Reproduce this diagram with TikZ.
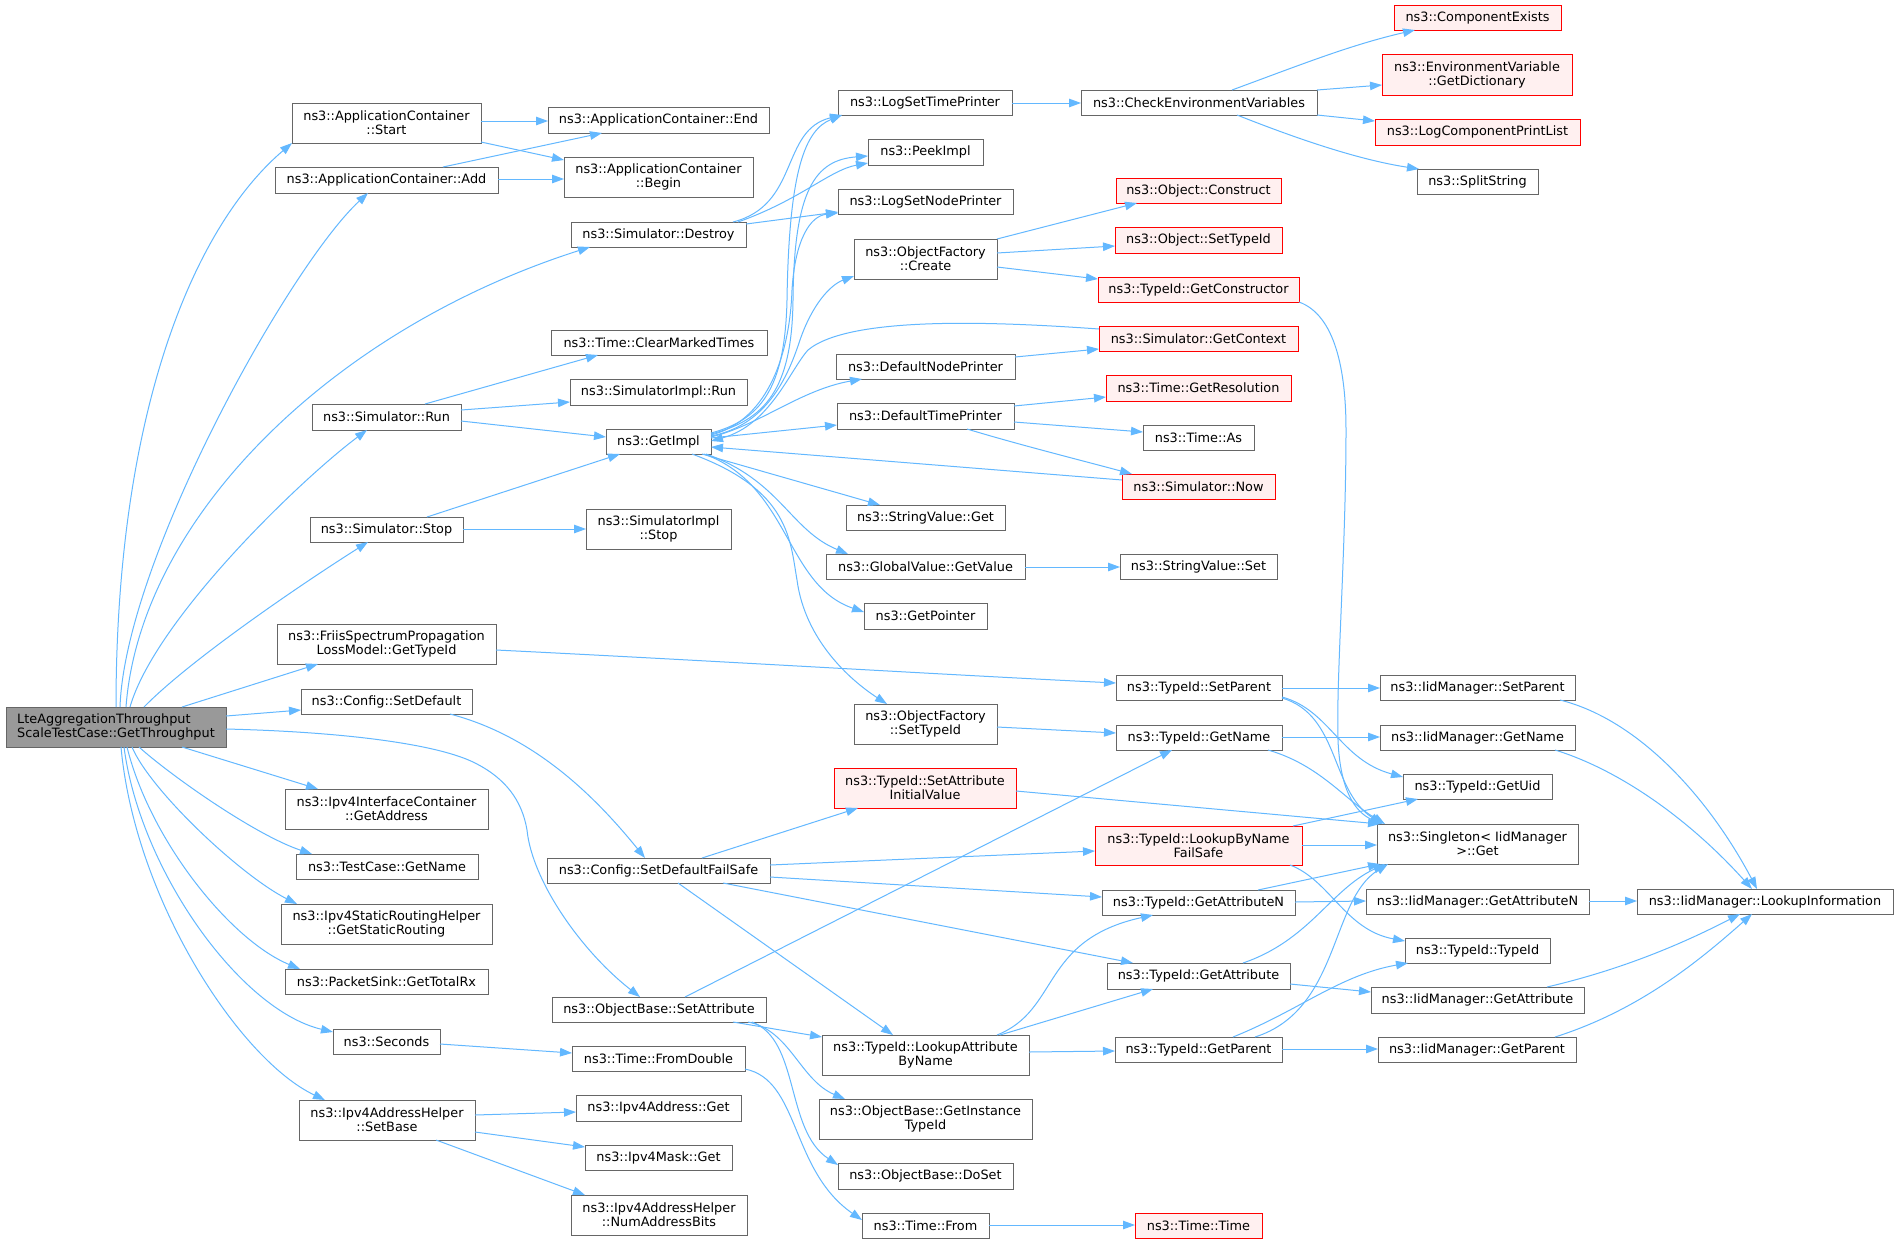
\documentclass[tikz,border=0pt]{standalone}
\usepackage{fontspec}
\setmainfont{DejaVu Sans}
\usetikzlibrary{arrows.meta,calc}
\definecolor{edgec}{HTML}{63B8FF}
\definecolor{boxc}{HTML}{666666}
\definecolor{redfill}{HTML}{FFF0F0}
\definecolor{mainfill}{HTML}{999999}
\newcommand\mkbox[7]{\node[#1, minimum width={(#5-#3)*1bp}, minimum height={(#6-#4)*1bp}] (#2) at ({(#3+#5)/2},{(#4+#6)/2}) {#7};}
\tikzset{
 basebox/.style={draw=boxc, line width=1bp, inner sep=0pt, outer sep=0pt, font=\fontsize{12.85bp}{14bp}\selectfont, align=center, text=black},
 nbox/.style={basebox, fill=white},
 rbox/.style={basebox, draw=red, fill=redfill},
 mbox/.style={basebox, fill=mainfill, align=left},
 conn/.style={draw=edgec, line width=1bp, -{Triangle[length=12bp,width=8.5bp]}},
}
\begin{document}
\begin{tikzpicture}[x=1bp,y=-1bp]
\useasboundingbox (0,0) rectangle (1899,1243);
\fill[white] (0,0) rectangle (1899,1243);
% nodes
\mkbox{mbox}{main}{6}{707}{226}{747}{LteAggregationThroughput\\ScaleTestCase::GetThroughput}
\mkbox{nbox}{st}{292}{103}{481}{143}{ns3::ApplicationContainer\\::Start}
\mkbox{nbox}{ad}{275}{167}{498}{193}{ns3::ApplicationContainer::Add}
\mkbox{nbox}{en}{548}{107}{769}{133}{ns3::ApplicationContainer::End}
\mkbox{nbox}{be}{564}{157}{753}{197}{ns3::ApplicationContainer\\::Begin}
\mkbox{nbox}{de}{571}{222}{746}{247}{ns3::Simulator::Destroy}
\mkbox{nbox}{lstp}{838}{90}{1012}{115}{ns3::LogSetTimePrinter}
\mkbox{nbox}{pk}{868}{139}{983}{165}{ns3::PeekImpl}
\mkbox{nbox}{lsnp}{838}{189}{1013}{214}{ns3::LogSetNodePrinter}
\mkbox{nbox}{ofc}{854}{239}{997}{279}{ns3::ObjectFactory\\::Create}
\mkbox{nbox}{cmt}{551}{330}{767}{355}{ns3::Time::ClearMarkedTimes}
\mkbox{nbox}{sir}{570}{379}{747}{405}{ns3::SimulatorImpl::Run}
\mkbox{nbox}{dnp}{836}{354}{1015}{379}{ns3::DefaultNodePrinter}
\mkbox{nbox}{dtp}{837}{403}{1014}{429}{ns3::DefaultTimePrinter}
\mkbox{nbox}{cev}{1081}{90}{1317}{115}{ns3::CheckEnvironmentVariables}
\mkbox{rbox}{ce}{1394}{5}{1561}{30}{ns3::ComponentExists}
\mkbox{rbox}{evd}{1382}{54}{1572}{95}{ns3::EnvironmentVariable\\::GetDictionary}
\mkbox{rbox}{lcpl}{1375}{119}{1580}{145}{ns3::LogComponentPrintList}
\mkbox{nbox}{ss}{1417}{169}{1538}{194}{ns3::SplitString}
\mkbox{rbox}{oc}{1116}{178}{1281}{203}{ns3::Object::Construct}
\mkbox{rbox}{ost}{1115}{227}{1282}{253}{ns3::Object::SetTypeId}
\mkbox{rbox}{gc}{1098}{277}{1299}{302}{ns3::TypeId::GetConstructor}
\mkbox{rbox}{gctx}{1099}{326}{1298}{351}{ns3::Simulator::GetContext}
\mkbox{rbox}{gr}{1106}{375}{1291}{401}{ns3::Time::GetResolution}
\mkbox{nbox}{run}{312}{404}{461}{430}{ns3::Simulator::Run}
\mkbox{nbox}{stop}{310}{517}{463}{542}{ns3::Simulator::Stop}
\mkbox{nbox}{fr}{277}{624}{496}{664}{ns3::FriisSpectrumPropagation\\LossModel::GetTypeId}
\mkbox{nbox}{csd}{301}{689}{472}{714}{ns3::Config::SetDefault}
\mkbox{nbox}{iga}{285}{789}{488}{829}{ns3::Ipv4InterfaceContainer\\::GetAddress}
\mkbox{nbox}{tcn}{296}{854}{478}{879}{ns3::TestCase::GetName}
\mkbox{nbox}{sr}{281}{904}{492}{944}{ns3::Ipv4StaticRoutingHelper\\::GetStaticRouting}
\mkbox{nbox}{ptr}{285}{969}{488}{994}{ns3::PacketSink::GetTotalRx}
\mkbox{nbox}{sec}{333}{1029}{440}{1054}{ns3::Seconds}
\mkbox{nbox}{sb}{299}{1100}{475}{1140}{ns3::Ipv4AddressHelper\\::SetBase}
\mkbox{nbox}{sdfs}{547}{858}{770}{883}{ns3::Config::SetDefaultFailSafe}
\mkbox{nbox}{osa}{552}{997}{766}{1022}{ns3::ObjectBase::SetAttribute}
\mkbox{nbox}{tfd}{572}{1046}{745}{1071}{ns3::Time::FromDouble}
\mkbox{nbox}{iag}{576}{1095}{741}{1121}{ns3::Ipv4Address::Get}
\mkbox{nbox}{img}{585}{1145}{732}{1170}{ns3::Ipv4Mask::Get}
\mkbox{nbox}{nab}{571}{1195}{747}{1235}{ns3::Ipv4AddressHelper\\::NumAddressBits}
\mkbox{nbox}{lab}{822}{1035}{1029}{1075}{ns3::TypeId::LookupAttribute\\ByName}
\mkbox{nbox}{git}{819}{1099}{1032}{1139}{ns3::ObjectBase::GetInstance\\TypeId}
\mkbox{nbox}{ds}{838}{1163}{1013}{1189}{ns3::ObjectBase::DoSet}
\mkbox{nbox}{tf}{862}{1213}{989}{1238}{ns3::Time::From}
\mkbox{rbox}{lbn}{1095}{826}{1302}{865}{ns3::TypeId::LookupByName\\FailSafe}
\mkbox{nbox}{gan}{1102}{890}{1295}{915}{ns3::TypeId::GetAttributeN}
\mkbox{nbox}{ga}{1107}{963}{1290}{989}{ns3::TypeId::GetAttribute}
\mkbox{nbox}{gp}{1115}{1037}{1282}{1062}{ns3::TypeId::GetParent}
\mkbox{rbox}{tt}{1135}{1213}{1262}{1238}{ns3::Time::Time}
\mkbox{nbox}{sg}{1377}{824}{1578}{864}{ns3::Singleton< IidManager\\>::Get}
\mkbox{nbox}{igan}{1366}{889}{1589}{914}{ns3::IidManager::GetAttributeN}
\mkbox{nbox}{tid}{1405}{938}{1550}{963}{ns3::TypeId::TypeId}
\mkbox{nbox}{iga2}{1371}{987}{1584}{1013}{ns3::IidManager::GetAttribute}
\mkbox{nbox}{igp}{1378}{1037}{1576}{1062}{ns3::IidManager::GetParent}
\mkbox{nbox}{li}{1637}{889}{1893}{914}{ns3::IidManager::LookupInformation}
\mkbox{nbox}{gi}{606}{429}{711}{454}{ns3::GetImpl}
\mkbox{nbox}{sis}{586}{509}{731}{549}{ns3::SimulatorImpl\\::Stop}
\mkbox{nbox}{svg}{846}{505}{1005}{530}{ns3::StringValue::Get}
\mkbox{nbox}{gvv}{826}{554}{1025}{579}{ns3::GlobalValue::GetValue}
\mkbox{nbox}{gptr}{864}{603}{987}{629}{ns3::GetPointer}
\mkbox{nbox}{ofs}{854}{704}{997}{744}{ns3::ObjectFactory\\::SetTypeId}
\mkbox{rbox}{sai}{834}{768}{1016}{808}{ns3::TypeId::SetAttribute\\InitialValue}
\mkbox{nbox}{tas}{1143}{425}{1254}{450}{ns3::Time::As}
\mkbox{rbox}{now}{1122}{474}{1275}{499}{ns3::Simulator::Now}
\mkbox{nbox}{svs}{1120}{554}{1277}{579}{ns3::StringValue::Set}
\mkbox{nbox}{tsp}{1116}{675}{1282}{700}{ns3::TypeId::SetParent}
\mkbox{nbox}{tgn}{1116}{725}{1282}{750}{ns3::TypeId::GetName}
\mkbox{nbox}{isp}{1380}{675}{1575}{700}{ns3::IidManager::SetParent}
\mkbox{nbox}{ign}{1380}{725}{1575}{750}{ns3::IidManager::GetName}
\mkbox{nbox}{gu}{1403}{774}{1552}{799}{ns3::TypeId::GetUid}
% main edges
\draw[conn] ($(main.north west)+(110,0)$) .. controls (116,420) and (190,230) .. (st.south west);
\draw[conn] ($(main.north west)+(114,0)$) .. controls (125,560) and (290,265) .. ($(ad.north west)+(93,26)$);
\draw[conn] ($(main.north west)+(120,0)$) .. controls (140,520) and (330,330) .. ($(de.north west)+(19,25)$);
\draw[conn] ($(main.north west)+(124,0)$) .. controls (155,620) and (300,480) .. ($(run.north west)+(55,26)$);
\draw[conn] ($(main.north west)+(138,0)$) .. controls (190,660) and (300,585) .. ($(stop.north west)+(58,25)$);
\draw[conn] ($(main.north west)+(176,0)$) -- ($(fr.north west)+(41,40)$);
\draw[conn] ($(main.north west)+(220,9)$) -- ($(csd.north west)+(0,21)$);
\draw[conn] ($(main.north west)+(220,22)$) .. controls (350,732) and (440,745) .. (475,763) .. controls (505,778) and (522,800) .. (527,830) .. controls (532,880) and (580,950) .. ($(osa.north west)+(88,0)$);
\draw[conn] ($(main.north west)+(176,40)$) -- ($(iga.north west)+(33,0)$);
\draw[conn] ($(main.north west)+(133,40)$) .. controls (170,775) and (255,835) .. ($(tcn.north west)+(16,0)$);
\draw[conn] ($(main.north west)+(126,40)$) .. controls (150,790) and (240,875) .. ($(sr.north west)+(16,0)$);
\draw[conn] ($(main.north west)+(121,40)$) .. controls (150,840) and (230,940) .. ($(ptr.north west)+(15,0)$);
\draw[conn] ($(main.north west)+(118,40)$) .. controls (140,870) and (240,1010) .. ($(sec.north west)+(0,3)$);
\draw[conn] ($(main.north west)+(115,40)$) .. controls (135,900) and (240,1060) .. ($(sb.north west)+(26,0)$);
% application container
\draw[conn] ($(st.north west)+(189,18)$) -- ($(en.north west)+(0,14)$);
\draw[conn] ($(st.north west)+(189,39)$) -- ($(be.north west)+(0,3)$);
\draw[conn] ($(ad.north west)+(168,0)$) -- ($(en.north west)+(54,26)$);
\draw[conn] ($(ad.north west)+(223,12)$) -- ($(be.north west)+(0,22)$);
% destroy
\draw[conn] ($(de.north west)+(162,0)$) .. controls (800,205) and (780,130) .. ($(lstp.north west)+(4,25)$);
\draw[conn] ($(de.north west)+(167,0)$) .. controls (800,200) and (830,170) .. ($(pk.north west)+(0,24)$);
\draw[conn] ($(de.north west)+(175,2)$) -- ($(lsnp.north west)+(0,23)$);
% run, stop
\draw[conn] ($(run.north west)+(113,0)$) -- ($(cmt.north west)+(47,25)$);
\draw[conn] ($(run.north west)+(149,6)$) -- ($(sir.north west)+(0,23)$);
\draw[conn] ($(run.north west)+(149,17)$) -- ($(gi.north west)+(0,8)$);
\draw[conn] ($(stop.north west)+(117,0)$) -- ($(gi.north west)+(14,25)$);
\draw[conn] ($(stop.north west)+(153,12)$) -- ($(sis.north west)+(0,20)$);
% GetImpl out
\draw[conn] ($(gi.north west)+(105,4)$) .. controls (760,420) and (785,390) .. (787,300) .. controls (789,170) and (805,130) .. ($(lstp.north west)+(4,25)$);
\draw[conn] ($(gi.north west)+(105,5)$) .. controls (765,420) and (792,390) .. (793,300) .. controls (794,190) and (815,160) .. ($(pk.north west)+(0,17)$);
\draw[conn] ($(gi.north west)+(105,6)$) .. controls (770,420) and (790,350) .. (792,290) .. controls (795,240) and (810,216) .. ($(lsnp.north west)+(0,24)$);
\draw[conn] ($(gi.north west)+(105,7)$) .. controls (770,425) and (790,370) .. (800,340) .. controls (812,305) and (830,285) .. ($(ofc.north west)+(0,37)$);
\draw[conn] ($(gi.north west)+(105,8)$) .. controls (760,425) and (800,390) .. ($(dnp.north west)+(26,25)$);
\draw[conn] ($(gi.north west)+(105,9)$) -- ($(dtp.north west)+(0,22)$);
\draw[conn] ($(gi.north west)+(96,25)$) -- ($(svg.north west)+(34,0)$);
\draw[conn] ($(gi.north west)+(100,25)$) .. controls (780,480) and (790,530) .. ($(gvv.north west)+(22,0)$);
\draw[conn] ($(gi.north west)+(98,25)$) .. controls (790,485) and (785,585) .. ($(gptr.north west)+(0,9)$);
\draw[conn] ($(gi.north west)+(86,25)$) .. controls (790,490) and (790,540) .. (797,580) .. controls (805,640) and (850,680) .. ($(ofs.north west)+(33,0)$);
% into GetImpl
\draw[conn] ($(gctx.north west)+(0,3)$) .. controls (1000,322) and (850,315) .. (808,350) .. controls (790,370) and (770,425) .. ($(gi.north west)+(105,12)$);
\draw[conn] ($(now.north west)+(0,6)$) -- ($(gi.north west)+(105,18)$);
% printers
\draw[conn] ($(dtp.north west)+(130,26)$) .. controls (1020,445) and (1080,460) .. ($(now.north west)+(10,0)$);
\draw[conn] ($(dtp.north west)+(177,19)$) -- ($(tas.north west)+(0,7)$);
\draw[conn] ($(dtp.north west)+(177,3)$) -- ($(gr.north west)+(0,22)$);
\draw[conn] ($(dnp.north west)+(179,3)$) -- ($(gctx.north west)+(0,23)$);
\draw[conn] ($(lstp.north west)+(174,13)$) -- ($(cev.north west)+(0,13)$);
\draw[conn] ($(cev.north west)+(151,0)$) .. controls (1300,65) and (1350,45) .. ($(ce.north west)+(21,25)$);
\draw[conn] ($(cev.north west)+(236,0)$) -- ($(evd.north west)+(0,31)$);
\draw[conn] ($(cev.north west)+(236,25)$) -- ($(lcpl.north west)+(0,2)$);
\draw[conn] ($(cev.north west)+(156,25)$) .. controls (1300,140) and (1360,160) .. ($(ss.north west)+(2,0)$);
% object factory
\draw[conn] ($(ofc.north west)+(143,0)$) -- ($(oc.north west)+(21,25)$);
\draw[conn] ($(ofc.north west)+(143,14)$) -- ($(ost.north west)+(0,19)$);
\draw[conn] ($(ofc.north west)+(143,28)$) -- ($(gc.north west)+(0,2)$);
\draw[conn] ($(gc.north west)+(201,25)$) .. controls (1335,315) and (1346,370) .. (1346,430) .. controls (1346,550) and (1336,680) .. (1338,740) .. controls (1340,790) and (1355,812) .. ($(sg.north west)+(5,0)$);
\draw[conn] ($(gvv.north west)+(199,13)$) -- ($(svs.north west)+(0,13)$);
\draw[conn] ($(fr.north west)+(219,26)$) .. controls (700,660) and (950,675) .. ($(tsp.north west)+(0,8)$);
\draw[conn] ($(ofs.north west)+(143,23)$) -- ($(tgn.north west)+(0,8)$);
% typeid
\draw[conn] ($(tsp.north west)+(166,13)$) -- ($(isp.north west)+(0,13)$);
\draw[conn] ($(tsp.north west)+(166,22)$) .. controls (1330,710) and (1340,760) .. ($(gu.north west)+(0,3)$);
\draw[conn] ($(tsp.north west)+(166,23)$) .. controls (1340,715) and (1330,790) .. ($(sg.north west)+(5,0)$);
\draw[conn] ($(tgn.north west)+(166,12)$) -- ($(ign.north west)+(0,12)$);
\draw[conn] ($(tgn.north west)+(152,25)$) .. controls (1320,765) and (1345,800) .. ($(sg.north west)+(8,0)$);
\draw[conn] ($(isp.north west)+(180,25)$) .. controls (1640,720) and (1710,800) .. ($(li.north west)+(120,0)$);
\draw[conn] ($(ign.north west)+(175,25)$) .. controls (1620,770) and (1690,820) .. ($(li.north west)+(115,0)$);
\draw[conn] ($(igan.north west)+(223,12)$) -- ($(li.north west)+(0,12)$);
\draw[conn] ($(iga2.north west)+(176,0)$) .. controls (1620,970) and (1680,945) .. ($(li.north west)+(103,25)$);
\draw[conn] ($(igp.north west)+(177,0)$) .. controls (1640,1010) and (1700,960) .. ($(li.north west)+(115,25)$);
% config
\draw[conn] ($(csd.north west)+(149,25)$) .. controls (530,735) and (590,790) .. ($(sdfs.north west)+(98,0)$);
\draw[conn] ($(sdfs.north west)+(155,0)$) -- ($(sai.north west)+(24,40)$);
\draw[conn] ($(sdfs.north west)+(223,7)$) -- ($(lbn.north west)+(0,25)$);
\draw[conn] ($(sdfs.north west)+(223,19)$) -- ($(gan.north west)+(0,7)$);
\draw[conn] ($(sdfs.north west)+(176,25)$) -- ($(ga.north west)+(26,0)$);
\draw[conn] ($(sdfs.north west)+(131,25)$) -- ($(lab.north west)+(71,0)$);
% object base
\draw[conn] ($(osa.north west)+(133,0)$) -- ($(tgn.north west)+(56,25)$);
\draw[conn] ($(osa.north west)+(181,25)$) -- ($(lab.north west)+(0,2)$);
\draw[conn] ($(osa.north west)+(196,25)$) .. controls (790,1030) and (800,1080) .. ($(git.north west)+(26,0)$);
\draw[conn] ($(osa.north west)+(200,25)$) .. controls (800,1040) and (785,1130) .. ($(ds.north west)+(0,2)$);
% time
\draw[conn] ($(sec.north west)+(107,15)$) -- ($(tfd.north west)+(0,7)$);
\draw[conn] ($(tfd.north west)+(173,23)$) .. controls (800,1080) and (790,1170) .. ($(tf.north west)+(0,7)$);
\draw[conn] ($(tf.north west)+(127,12)$) -- ($(tt.north west)+(0,12)$);
% address helper
\draw[conn] ($(sb.north west)+(176,15)$) -- ($(iag.north west)+(0,17)$);
\draw[conn] ($(sb.north west)+(176,32)$) -- ($(img.north west)+(0,2)$);
\draw[conn] ($(sb.north west)+(137,40)$) -- ($(nab.north west)+(14,0)$);
% lookup attribute
\draw[conn] ($(lab.north west)+(175,0)$) .. controls (1060,1010) and (1040,940) .. ($(gan.north west)+(51,25)$);
\draw[conn] ($(lab.north west)+(178,0)$) -- ($(ga.north west)+(46,26)$);
\draw[conn] ($(lab.north west)+(207,17)$) -- ($(gp.north west)+(0,14)$);
\draw[conn] ($(lbn.north west)+(207,19)$) -- ($(sg.north west)+(0,21)$);
\draw[conn] ($(lbn.north west)+(198,0)$) -- ($(gu.north west)+(15,25)$);
\draw[conn] ($(lbn.north west)+(195,39)$) .. controls (1330,880) and (1345,930) .. ($(tid.north west)+(0,3)$);
\draw[conn] ($(sai.north west)+(182,23)$) -- ($(sg.north west)+(3,0)$);
\draw[conn] ($(gan.north west)+(156,0)$) -- ($(sg.north west)+(3,40)$);
\draw[conn] ($(gan.north west)+(193,12)$) -- ($(igan.north west)+(0,12)$);
\draw[conn] ($(ga.north west)+(136,0)$) .. controls (1310,940) and (1330,890) .. ($(sg.north west)+(8,40)$);
\draw[conn] ($(ga.north west)+(183,21)$) -- ($(iga2.north west)+(0,5)$);
\draw[conn] ($(gp.north west)+(140,0)$) .. controls (1340,1010) and (1330,900) .. ($(sg.north west)+(11,40)$);
\draw[conn] ($(gp.north west)+(118,0)$) .. controls (1300,1010) and (1340,975) .. ($(tid.north west)+(3,25)$);
\draw[conn] ($(gp.north west)+(167,12)$) -- ($(igp.north west)+(0,12)$);
\end{tikzpicture}
\end{document}
